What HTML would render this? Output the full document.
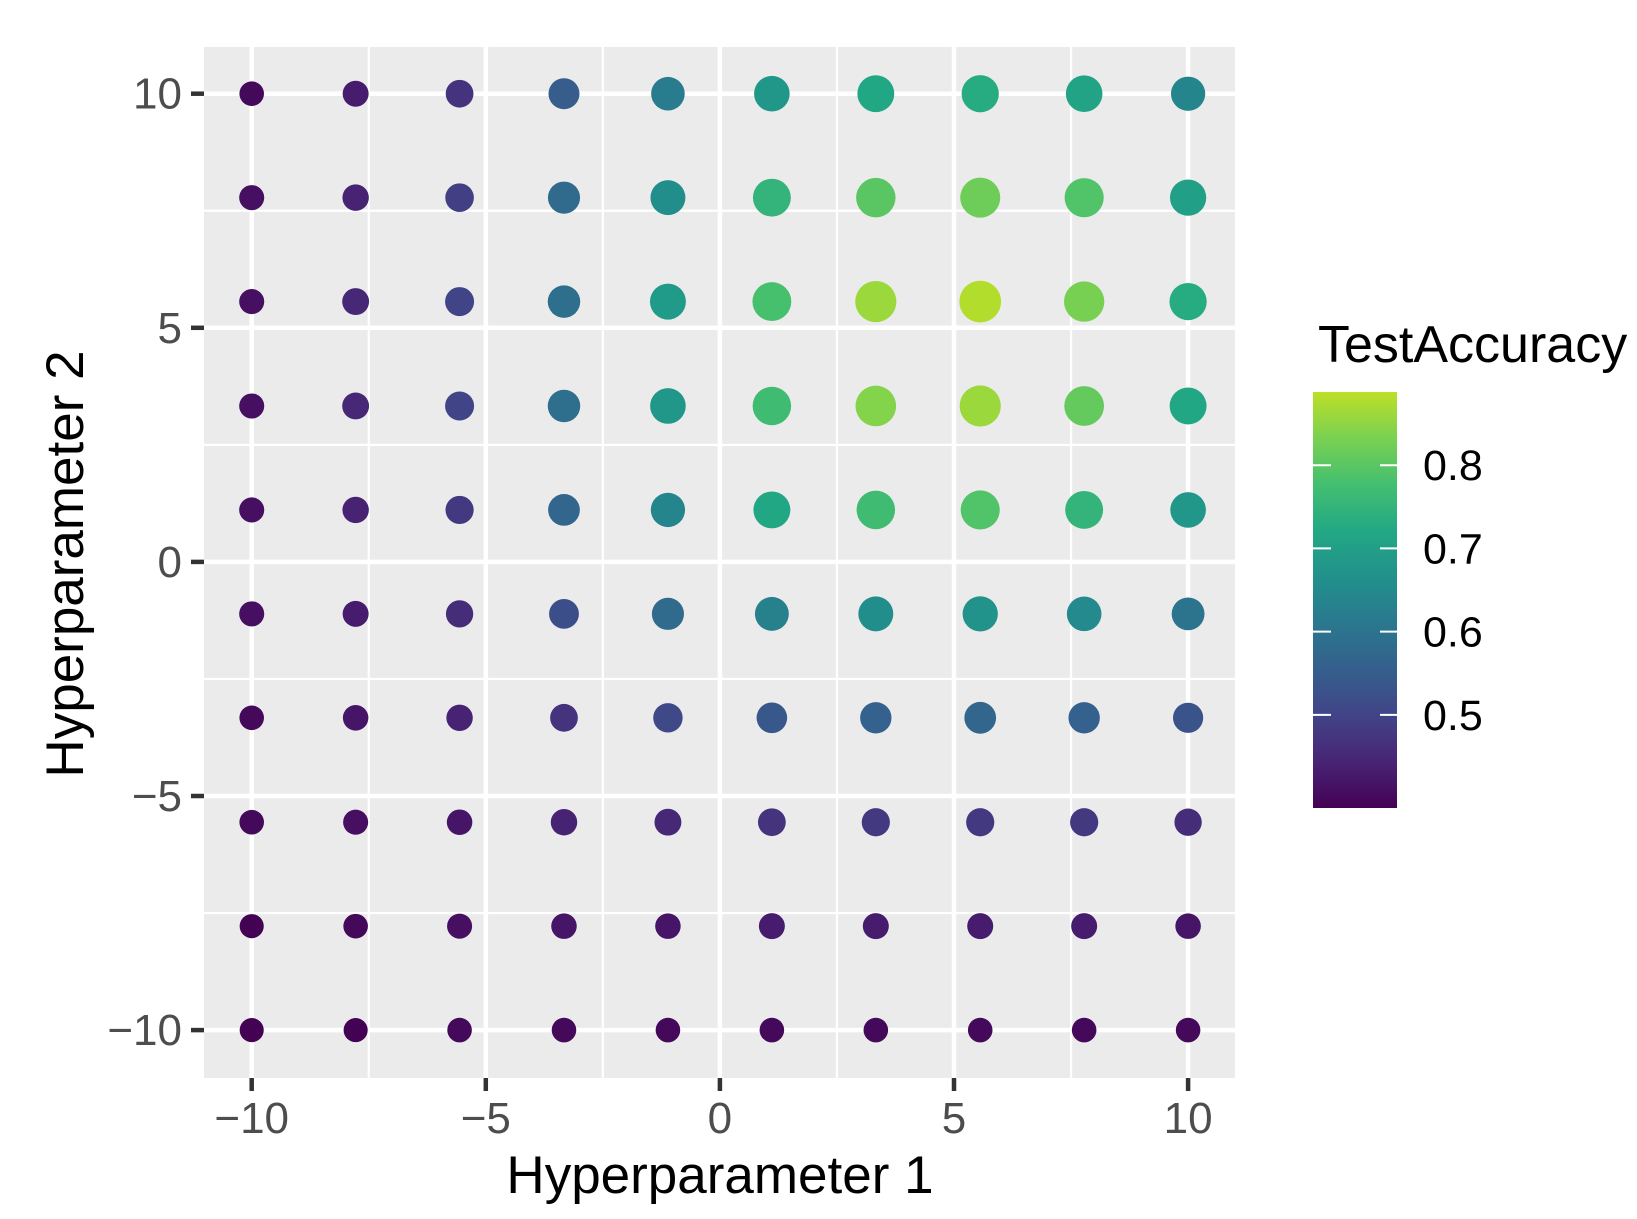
<!DOCTYPE html>
<html><head><meta charset="utf-8"><style>
body{margin:0;background:#fff}
svg{display:block;font-family:"Liberation Sans",sans-serif}
</style></head><body>
<svg id="chart" width="1637" height="1219" viewBox="0 0 1637 1219">
<defs><linearGradient id="vir" x1="0" y1="1" x2="0" y2="0">
<stop offset="0" stop-color="#440154"/><stop offset="0.111" stop-color="#482475"/><stop offset="0.222" stop-color="#414487"/><stop offset="0.333" stop-color="#355f8d"/><stop offset="0.444" stop-color="#2a788e"/><stop offset="0.556" stop-color="#21918c"/><stop offset="0.667" stop-color="#22a884"/><stop offset="0.778" stop-color="#44bf70"/><stop offset="0.889" stop-color="#7ad151"/><stop offset="1" stop-color="#bddf26"/>
</linearGradient></defs>
<rect x="204" y="47" width="1031" height="1031" fill="#ebebeb"/>
<g id="grid"></g><g id="ticks"></g><g id="points"></g>
<text x="720" y="1193" font-size="53" text-anchor="middle" fill="#000">Hyperparameter 1</text>
<text transform="translate(83,564) rotate(-90)" font-size="53" text-anchor="middle" fill="#000">Hyperparameter 2</text>
<text x="1318" y="362" font-size="52" fill="#000">TestAccuracy</text>
<rect x="1313" y="392" width="84" height="416" fill="url(#vir)"/>
<g id="legend"></g>
</svg>
<script>
const xVals=[-10,-7.78,-5.56,-3.33,-1.11,1.11,3.33,5.56,7.78,10];
const yVals=[10,7.78,5.56,3.33,1.11,-1.11,-3.33,-5.56,-7.78,-10];
const acc=[
[0.40,0.43,0.47,0.55,0.62,0.68,0.72,0.73,0.71,0.64],
[0.41,0.44,0.49,0.58,0.66,0.75,0.80,0.82,0.79,0.70],
[0.41,0.45,0.50,0.59,0.69,0.78,0.86,0.88,0.83,0.73],
[0.41,0.45,0.50,0.59,0.68,0.77,0.84,0.86,0.81,0.72],
[0.41,0.44,0.48,0.57,0.64,0.72,0.77,0.79,0.75,0.68],
[0.41,0.43,0.46,0.52,0.58,0.63,0.66,0.67,0.65,0.60],
[0.40,0.42,0.44,0.47,0.51,0.54,0.56,0.57,0.56,0.53],
[0.40,0.41,0.42,0.44,0.45,0.47,0.48,0.48,0.48,0.46],
[0.39,0.40,0.41,0.42,0.42,0.43,0.43,0.43,0.43,0.42],
[0.39,0.39,0.40,0.40,0.40,0.40,0.40,0.40,0.40,0.40]];
const axisTicks=[-10,-5,0,5,10];
const axisTickLabels=["\u221210","\u22125","0","5","10"];
const minorTicks=[-7.5,-2.5,2.5,7.5];
const legendTicks=[0.5,0.6,0.7,0.8];
const legendLabels=["0.5","0.6","0.7","0.8"];
const ns="http://www.w3.org/2000/svg";
const sx=v=>251.7+(v+10)*46.82, sy=v=>93.7+(10-v)*46.82;
const cMin=0.388,cMax=0.888;
const ly=v=>808-(v-cMin)/(cMax-cMin)*416;
const vir=["#440154","#482475","#414487","#355f8d","#2a788e","#21918c","#22a884","#44bf70","#7ad151","#bddf26"];
function hex(h){return [1,3,5].map(i=>parseInt(h.substr(i,2),16));}
function color(v){let t=Math.max(0,Math.min(1,(v-cMin)/(cMax-cMin)))*(vir.length-1);let i=Math.min(vir.length-2,Math.floor(t)),f=t-i;let a=hex(vir[i]),b=hex(vir[i+1]);return "rgb("+a.map((c,k)=>Math.round(c+(b[k]-c)*f)).join(",")+")";}
function mk(tag,attrs,parent){const e=document.createElementNS(ns,tag);for(const k in attrs)e.setAttribute(k,attrs[k]);parent.appendChild(e);return e;}
const grid=document.getElementById('grid'),ticks=document.getElementById('ticks'),pts=document.getElementById('points'),leg=document.getElementById('legend');
minorTicks.forEach(v=>{
 let a=mk('line',{x1:sx(v),x2:sx(v),y1:47,y2:1078,stroke:'#fff','stroke-width':2.2},grid);
 
 
 let b=mk('line',{y1:sy(v),y2:sy(v),x1:204,x2:1235,stroke:'#fff','stroke-width':2.2},grid);
 
 
});
axisTicks.forEach((v,i)=>{
 let a=mk('line',{x1:sx(v),x2:sx(v),y1:47,y2:1078,stroke:'#fff','stroke-width':4.5},grid);
 
 
 let b=mk('line',{y1:sy(v),y2:sy(v),x1:204,x2:1235,stroke:'#fff','stroke-width':4.5},grid);
 
 
 let t1=mk('line',{x1:sx(v),x2:sx(v),y1:1078,y2:1091,stroke:'#333','stroke-width':4.5},ticks);
 
 
 let t2=mk('line',{x1:191,x2:204,y1:sy(v),y2:sy(v),stroke:'#333','stroke-width':4.5},ticks);
 
 
 let l1=mk('text',{x:sx(v),y:1133,'font-size':44,'text-anchor':'middle',fill:'#4d4d4d'},ticks);
 l1.textContent=axisTickLabels[i];
 
 
 let l2=mk('text',{x:182,y:sy(v)+15,'font-size':44,'text-anchor':'end',fill:'#4d4d4d'},ticks);
 l2.textContent=axisTickLabels[i];
 
 
});
yVals.forEach((yv,r)=>xVals.forEach((xv,c)=>{
 const v=acc[r][c];
 const f=Math.max(0,(v-cMin)/(cMax-cMin));
 const rad=Math.sqrt(144+f*(441-144));
 let p=mk('circle',{cx:sx(xv),cy:sy(yv),r:rad,fill:color(v)},pts);
 
 
}));
legendTicks.forEach((v,i)=>{
 let a=mk('line',{x1:1313,x2:1331,y1:ly(v),y2:ly(v),stroke:'#fff','stroke-width':2},leg);
 
 
 let b=mk('line',{x1:1380,x2:1397,y1:ly(v),y2:ly(v),stroke:'#fff','stroke-width':2},leg);
 
 
 let t=mk('text',{x:1423,y:ly(v)+15,'font-size':43,fill:'#000'},leg);
 t.textContent=legendLabels[i];
 
 
});
</script>
</body></html>
